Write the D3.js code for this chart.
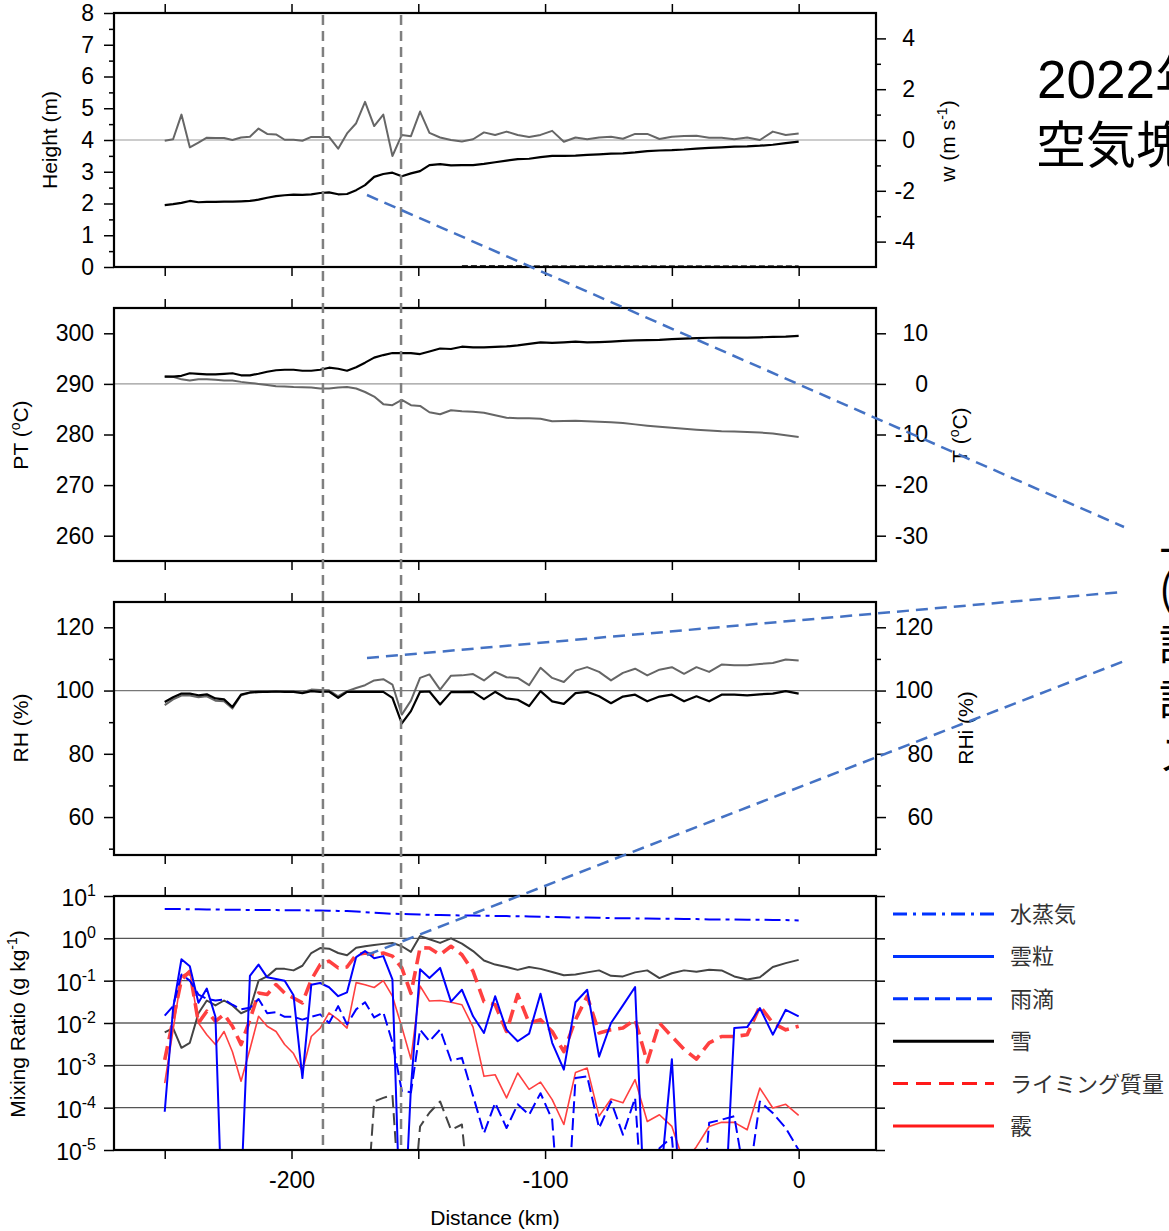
<!DOCTYPE html>
<html lang="ja">
<head>
<meta charset="utf-8">
<title>parcel trajectory</title>
<script src="https://cdnjs.cloudflare.com/ajax/libs/d3/7.8.5/d3.min.js"></script>
<style>
body { margin: 0; background: #fff; }
svg text { font-family: "Liberation Sans", Arial, Helvetica, sans-serif; }
</style>
</head>
<body>
<div id="chart"></div>
<script>
// distance along the trajectory (km)
var dist = [-250,-246.7,-243.4,-240.1,-236.7,-233.4,-230,-226.6,-223.3,-219.9,
  -216.4,-213,-209.6,-206.1,-202.7,-199.2,-195.7,-192.2,-188.7,-185.2,
  -181.6,-178.1,-174.5,-171,-167.4,-163.8,-160.2,-156.5,-152.9,-149.3,
  -145.6,-141.4,-137.1,-132.8,-128.4,-124.1,-119.7,-115.2,-110.8,-106.3,
  -101.8,-97.2,-92.6,-88,-83.4,-78.7,-74,-69.3,-64.5,-59.7,
  -54.9,-50,-45.2,-40.3,-35.3,-30.4,-25.4,-20.3,-15.3,-10.2,-5.1,0];

// panel 1
var heightKm = [1.95,1.98,2.02,2.08,2.04,2.05,2.05,2.06,2.06,2.07,2.08,2.12,2.18,2.23,2.26,2.28,2.27,2.29,2.33,2.35,2.29,2.3,2.42,2.58,2.84,2.93,2.97,2.86,2.95,3.02,3.21,
  3.24,3.2,3.21,3.21,3.25,3.3,3.35,3.4,3.41,3.46,3.5,3.5,3.51,3.53,3.55,3.57,3.58,3.61,3.65,3.67,3.68,3.7,3.73,3.75,3.77,3.79,3.8,3.82,3.85,3.9,3.95];
var wVel = [-0.03,0.03,1.0,-0.29,-0.1,0.09,0.08,0.08,0.0,0.1,0.13,0.45,0.24,0.22,0.01,0.01,-0.03,0.12,0.12,0.12,-0.34,0.26,0.66,1.5,0.55,1.0,-0.63,0.2,0.15,1.12,0.28,
  0.1,0.0,-0.06,0.03,0.3,0.2,0.33,0.2,0.12,0.2,0.36,-0.07,0.1,0.03,0.1,0.13,0.05,0.24,0.24,0.04,0.13,0.16,0.17,0.09,0.09,0.03,0.1,0.0,0.33,0.2,0.26];
var sfcHeight = [null,null,null,null,null,null,null,null,null,null,null,null,null,null,null,null,null,null,null,null,null,null,null,null,null,null,null,null,null,null,null,null,null,
  0.04,0.04,0.04,0.04,0.04,0.04,0.03,0.03,0.03,0.03,0.03,0.03,0.03,0.03,0.03,0.03,0.03,0.03,0.03,0.03,0.03,0.03,0.03,0.03,0.03,0.03,0.03,0.03,0.03];

// panel 2
var potTemp = [291.45,291.45,291.6,292.1,292.0,291.9,291.9,292.0,292.1,291.7,291.7,292.0,292.4,292.7,292.8,292.8,292.6,292.6,292.8,293.2,293.0,292.6,293.3,294.2,295.2,295.7,296.1,296.1,296.1,295.9,296.4,
  297.0,296.9,297.35,297.2,297.2,297.3,297.4,297.6,297.9,298.2,298.1,298.2,298.35,298.2,298.25,298.35,298.5,298.6,298.65,298.7,298.85,298.95,299.05,299.12,299.15,299.15,299.15,299.2,299.3,299.35,299.5];
var tempC = [1.45,1.4,0.9,0.65,0.9,0.9,0.8,0.65,0.65,0.4,0.2,0,-0.2,-0.45,-0.5,-0.6,-0.65,-0.7,-0.9,-0.9,-0.7,-0.6,-0.9,-1.6,-2.5,-4.0,-4.2,-3.15,-4.2,-4.35,-5.6,
  -6.0,-5.2,-5.4,-5.5,-5.7,-6.2,-6.7,-6.8,-6.8,-6.9,-7.4,-7.35,-7.3,-7.4,-7.5,-7.6,-7.75,-8.0,-8.25,-8.45,-8.65,-8.85,-9.05,-9.2,-9.35,-9.4,-9.5,-9.6,-9.8,-10.15,-10.5];

// panel 3
var rh = [96.4,97.9,99.05,99.05,98.5,98.8,97.5,97.2,94.8,98.7,99.4,99.6,99.6,99.7,99.6,99.6,99.2,99.8,99.6,99.7,97.7,99.6,99.6,99.6,99.6,99.6,97.7,89.6,93.5,99.6,99.7,
  95.6,99.5,99.5,99.6,97.3,99.6,97.5,97.1,95.1,99.8,96.6,95.8,99.2,99.6,98.2,96.0,98.1,98.7,96.6,98.1,98.7,96.6,98.2,96.6,98.7,98.7,98.5,98.8,99.05,99.8,99.05];
var rhi = [95.4,97.2,98.4,98.4,97.9,98.2,96.8,96.6,94.3,98.5,99.3,99.5,99.6,99.7,99.7,99.6,99.5,100.3,100.2,100.1,98.2,99.8,100.8,101.7,103.2,103.6,101.9,92.4,96.8,104,105.1,
  100.3,104.7,104.8,105.2,103.2,105.9,104.2,104,101.7,107.2,104,102.7,106.3,107.4,105.9,103.2,105.6,106.9,104.8,106.6,107.4,105.3,107.4,105.9,108.2,108,108,108.4,108.7,109.8,109.5];

// panel 4 (g/kg)
var qVapor = [4.9,4.9,4.9,4.85,4.85,4.8,4.8,4.75,4.75,4.7,4.7,4.7,4.65,4.65,4.6,4.6,4.6,4.55,4.55,4.5,4.45,4.4,
  4.3,4.15,4.0,3.9,3.8,3.75,3.7,3.65,3.6,
  3.55,3.5,3.47,3.44,3.41,3.38,3.35,3.32,3.3,3.25,
  3.2,3.15,3.1,3.1,3.05,3.0,3.0,2.95,2.95,2.9,2.9,2.85,2.85,2.8,2.8,2.8,2.75,2.75,2.7,2.7,2.65];
var qCloud = [8e-5,0.022,0.32,0.22,0.03,0.065,0.014,1e-8,1e-8,1e-6,0.13,0.24,0.12,0.11,0.1,0.045,5e-4,0.08,0.088,0.07,0.043,0.053,0.36,0.5,0.34,0.38,0.107,1e-8,3e-4,0.185,
  0.116,0.2,0.032,0.061,0.0144,0.0058,0.043,0.0069,0.0037,0.0056,0.049,0.0034,7.9e-4,0.031,0.061,0.0016,0.01,0.026,0.071,1e-8,1e-6,0.0014,1e-8,1e-8,1e-8,1e-8,0.0076,0.008,0.0226,0.0053,0.0205,0.0144];
var qRain = [0.015,0.025,0.14,0.1,0.047,0.037,0.034,0.036,0.027,0.021,0.023,0.037,0.017,0.018,0.014,0.014,0.012,0.014,0.016,0.01,
  0.025,0.0093,0.021,0.031,0.0135,0.018,0.0035,2.5e-4,2.3e-4,0.007,0.0037,0.007,
  0.0013,0.0015,1.9e-4,2.5e-5,1.3e-4,3.3e-5,1.2e-4,6.8e-5,2.2e-4,5.2e-5,1e-8,5e-4,5.5e-4,3.3e-5,1.4e-4,2.3e-5,1.7e-4,1e-8,1.1e-5,2e-5,1e-8,1e-8,4.4e-5,5.2e-5,6.3e-5,1e-6,1.4e-4,7.5e-5,3.3e-5,1e-5];
var qSnow = [0.006,0.0076,0.0026,0.0034,0.017,0.034,0.026,0.034,0.026,0.017,0.021,0.1,0.126,0.19,0.19,0.175,0.225,0.45,0.59,0.57,
  0.45,0.4,0.6,0.65,0.7,0.74,0.78,0.65,0.48,1.13,0.95,0.78,1.0,0.75,0.5,0.3,0.24,
  0.21,0.18,0.21,0.19,0.16,0.134,0.14,0.157,0.175,0.13,0.126,0.157,0.175,0.115,0.15,0.175,0.163,0.18,0.175,0.126,0.106,0.12,0.21,0.26,0.31];
var qRime = [0.00135,0.012,0.105,0.166,0.01,0.019,0.011,0.016,0.0084,0.0031,0.012,0.051,0.047,0.081,0.051,0.039,0.03,0.105,0.24,0.29,0.2,0.21,0.41,0.45,0.41,0.45,0.38,0.2,0.05,0.6,0.59,
  0.41,0.65,0.41,0.166,0.032,0.027,0.0063,0.047,0.01,0.012,0.0063,0.0021,0.012,0.043,0.0058,0.0069,0.0076,0.012,0.0012,0.01,0.0048,0.0024,0.0014,0.0034,0.0048,0.0048,0.0053,0.025,0.01,0.0069,0.0084];
var qGraupel = [3.8e-4,0.0069,0.127,0.166,0.01,0.0053,0.0031,0.0063,0.0021,4.2e-4,0.0024,0.0144,0.0084,0.0063,0.0031,0.0019,7.2e-4,0.0048,0.0076,0.0173,0.012,0.0076,
  0.09,0.08,0.069,0.1,0.043,0.008,0.0014,0.075,0.033,
  0.034,0.031,0.027,0.008,5.5e-4,6e-4,1.7e-4,6.6e-4,2.7e-4,4e-4,1.55e-4,4e-5,6.8e-4,8.6e-4,6.3e-5,1.6e-4,1.3e-4,4.6e-4,4.7e-5,6.8e-5,3.6e-5,5e-6,1.2e-5,3.6e-5,4.5e-5,4.5e-5,3e-5,2.9e-4,9.8e-5,1.2e-4,6.6e-5];
var qIce = [null,null,null,null,null,null,null,null,null,null,null,null,null,null,null,null,null,null,null,null,null,null,
  1e-7,1e-7,1.4e-4,1.7e-4,2e-4,1e-7,1e-7,3.6e-5,7.6e-5,1.4e-4,3e-5,4e-5,1e-7,
  null,null,null,null,null,null,null,null,null,null,null,null,null,null,null,null,null,null,null,null,null,null,null,null,null,null,null];

var legendNames = ["水蒸気", "雲粒", "雨滴", "雪", "ライミング質量", "霰"];
var markDist = [-187.6, -156.8];
var xTicks = [-250, -200, -150, -100, -50, 0];
var xLabels = [-200, -100, 0];

var svg = d3.select("#chart").append("svg").attr("width", 1169).attr("height", 1231);

var x = d3.scaleLinear().domain([-270, 30.5]).range([114, 876]);
var X0 = 114, X1 = 876;

var yH = d3.scaleLinear().domain([0, 8]).range([267, 13]);
var yW = d3.scaleLinear().domain([-5, 5]).range([267, 13]);
var yPT = d3.scaleLinear().domain([255, 305]).range([561, 308]);
var yT = d3.scaleLinear().domain([-35, 15]).range([561, 308]);
var yRH = d3.scaleLinear().domain([48, 128]).range([855, 602]);
var yQ = d3.scaleLog().domain([1e-5, 10]).range([1150, 896]);

var defs = svg.append("defs");
function clip(id, top, bottom) {
  defs.append("clipPath").attr("id", id).append("rect")
    .attr("x", X0).attr("y", top).attr("width", X1 - X0).attr("height", bottom - top);
}
clip("c1", 13, 267); clip("c2", 308, 561); clip("c3", 602, 855); clip("c4", 896, 1150);

function styleAxis(g) {
  g.select(".domain").remove();
  g.selectAll(".tick line").attr("stroke", "#000").attr("stroke-width", 1.5);
  g.selectAll("text").attr("fill", "#000").style("font-size", "23px")
    .style("font-family", "'Liberation Sans', Arial, sans-serif");
}

function xFrame(top, bottom) {
  svg.append("g").attr("transform", "translate(0," + top + ")")
    .call(d3.axisTop(x).tickValues(xTicks).tickSize(9).tickFormat("")).call(styleAxis);
  svg.append("g").attr("transform", "translate(0," + bottom + ")")
    .call(d3.axisBottom(x).tickValues(xTicks).tickSize(9).tickFormat("")).call(styleAxis);
}

function border(top, bottom) {
  svg.append("rect").attr("x", X0).attr("y", top).attr("width", X1 - X0).attr("height", bottom - top)
    .attr("fill", "none").attr("stroke", "#000").attr("stroke-width", 2.2);
}

function leftAxis(scale, major, minor) {
  svg.append("g").attr("transform", "translate(" + X0 + ",0)")
    .call(d3.axisLeft(scale).tickValues(major).tickSize(10).tickPadding(10).tickFormat(function (d) { return String(d); }))
    .call(styleAxis);
  if (minor) {
    svg.append("g").attr("transform", "translate(" + X0 + ",0)")
      .call(d3.axisLeft(scale).tickValues(minor).tickSize(5).tickFormat("")).call(styleAxis);
  }
}

function rightAxis(scale, major, minor, labelEnd) {
  var g = svg.append("g").attr("transform", "translate(" + X1 + ",0)")
    .call(d3.axisRight(scale).tickValues(major).tickSize(10).tickFormat(function (d) { return String(d); }))
    .call(styleAxis);
  g.selectAll("text").attr("text-anchor", "end").attr("x", labelEnd - X1);
  if (minor) {
    svg.append("g").attr("transform", "translate(" + X1 + ",0)")
      .call(d3.axisRight(scale).tickValues(minor).tickSize(5).tickFormat("")).call(styleAxis);
  }
}

function refLine(yv, color) {
  svg.append("line").attr("x1", X0).attr("x2", X1).attr("y1", yv).attr("y2", yv)
    .attr("stroke", color || "#9a9a9a").attr("stroke-width", 1.2);
}

function drawSeries(clipId, yScale, vals, color, width, dash) {
  var pts = dist.map(function (d, i) { return [d, vals[i]]; });
  var line = d3.line()
    .defined(function (p) { return p[1] !== null && p[1] !== undefined; })
    .x(function (p) { return x(p[0]); })
    .y(function (p) { return yScale(p[1]); });
  svg.append("path").attr("clip-path", "url(#" + clipId + ")")
    .attr("d", line(pts)).attr("fill", "none").attr("stroke", color)
    .attr("stroke-width", width).attr("stroke-linejoin", "round")
    .attr("stroke-dasharray", dash || null);
}

function vTitle(cx, cy, parts, size) {
  var t = svg.append("text").attr("transform", "translate(" + cx + "," + cy + ") rotate(-90)")
    .attr("text-anchor", "middle").style("font-size", (size || 21) + "px").attr("fill", "#000");
  parts.forEach(function (p) {
    var s = t.append("tspan").text(p[0]);
    if (p[1] === "sup") s.attr("dy", -8).style("font-size", "14px");
    if (p[1] === "down") s.attr("dy", 8);
  });
}

// ---------- panel 1 ----------
refLine(yW(0));
drawSeries("c1", yW, wVel, "#666", 2);
drawSeries("c1", yH, heightKm, "#000", 2.2);
drawSeries("c1", yH, sfcHeight, "#333", 1.6, "6,3");
xFrame(13, 267); border(13, 267);
leftAxis(yH, [0, 1, 2, 3, 4, 5, 6, 7, 8], [0.5, 1.5, 2.5, 3.5, 4.5, 5.5, 6.5, 7.5]);
rightAxis(yW, [-4, -2, 0, 2, 4], [-3, -1, 1, 3], 915);
vTitle(57, 140, [["Height (m)"]]);
vTitle(955, 141, [["w (m s"], ["-1", "sup"], [")", "down"]]);

// ---------- panel 2 ----------
refLine(yPT(290));
drawSeries("c2", yT, tempC, "#666", 2);
drawSeries("c2", yPT, potTemp, "#000", 2.2);
xFrame(308, 561); border(308, 561);
leftAxis(yPT, [260, 270, 280, 290, 300]);
rightAxis(yT, [-30, -20, -10, 0, 10], null, 928);
vTitle(28, 435, [["PT ("], ["o", "sup"], ["C)", "down"]]);
vTitle(967, 435, [["T ("], ["o", "sup"], ["C)", "down"]]);

// ---------- panel 3 ----------
refLine(yRH(100), "#777");
drawSeries("c3", yRH, rhi, "#666", 2);
drawSeries("c3", yRH, rh, "#000", 2.2);
xFrame(602, 855); border(602, 855);
leftAxis(yRH, [60, 80, 100, 120], [50, 70, 90, 110]);
rightAxis(yRH, [60, 80, 100, 120], [50, 70, 90, 110], 933);
vTitle(28, 728, [["RH (%)"]]);
vTitle(973, 728, [["RHi (%)"]]);

// ---------- panel 4 ----------
[1, 0.1, 0.01, 0.001, 1e-4].forEach(function (v) {
  refLine(yQ(v), v === 0.01 ? "#111" : "#555");
});
drawSeries("c4", yQ, qVapor, "#0000ff", 2, "16,5,4,5");
drawSeries("c4", yQ, qSnow, "#444", 2);
drawSeries("c4", yQ, qIce, "#444", 2, "12,6");
drawSeries("c4", yQ, qGraupel, "#ff4040", 1.6);
drawSeries("c4", yQ, qRime, "#ff4040", 3.6, "14,7");
drawSeries("c4", yQ, qRain, "#0000ff", 2, "12,5");
drawSeries("c4", yQ, qCloud, "#0000ff", 2);
xFrame(896, 1150); border(896, 1150);
var decades = [1e-5, 1e-4, 1e-3, 1e-2, 1e-1, 1, 10];
svg.append("g").attr("transform", "translate(" + X0 + ",0)")
  .call(d3.axisLeft(yQ).tickValues(decades).tickSize(10).tickFormat("")).call(styleAxis);
svg.append("g").attr("transform", "translate(" + X1 + ",0)")
  .call(d3.axisRight(yQ).tickValues(decades).tickSize(9).tickFormat("")).call(styleAxis);
decades.forEach(function (v) {
  var t = svg.append("text").attr("x", 96).attr("y", yQ(v) + 10).attr("text-anchor", "end")
    .style("font-size", "23px").attr("fill", "#000");
  t.append("tspan").text("10");
  t.append("tspan").attr("dy", -10).style("font-size", "16px").text(String(Math.round(Math.log10(v))));
});
svg.append("g").attr("transform", "translate(0,1150)")
  .call(d3.axisBottom(x).tickValues(xLabels).tickSize(0).tickPadding(22).tickFormat(function (d) { return String(d); }))
  .call(styleAxis);
vTitle(25, 1024, [["Mixing Ratio (g kg"], ["-1", "sup"], [")", "down"]]);
svg.append("text").attr("x", 495).attr("y", 1225).attr("text-anchor", "middle")
  .style("font-size", "21px").attr("fill", "#000").text("Distance (km)");

// legend
var legendColors = ["#0033ff", "#0033ff", "#0033ff", "#000", "#ff1a1a", "#ff1a1a"];
var legendDash = ["14,6,3,6", null, "15,6", null, "15,8", null];
legendNames.forEach(function (name, i) {
  var ly = 914 + i * 42.4;
  svg.append("line").attr("x1", 893).attr("x2", 994).attr("y1", ly).attr("y2", ly)
    .attr("stroke", legendColors[i]).attr("stroke-width", 3).attr("stroke-dasharray", legendDash[i]);
  svg.append("text").attr("x", 1010).attr("y", ly + 8).style("font-size", "22px")
    .style("font-family", "'Noto Sans CJK JP', sans-serif").attr("fill", "#333").text(name);
});

// marker lines across panels
markDist.forEach(function (d) {
  svg.append("line").attr("x1", x(d)).attr("x2", x(d)).attr("y1", 15).attr("y2", 1146)
    .attr("stroke", "#7f7f7f").attr("stroke-width", 2.5).attr("stroke-dasharray", "10,6");
});

// callout text on the right (cut at the page edge, as in the slide)
svg.append("text").attr("x", 1037).attr("y", 98).style("font-size", "53px")
  .style("font-family", "'Liberation Sans', 'Noto Sans CJK JP', sans-serif").attr("fill", "#000").text("2022年");
svg.append("text").attr("x", 1036).attr("y", 163).style("font-size", "50px")
  .style("font-family", "'Noto Sans CJK JP', sans-serif").attr("fill", "#000").text("空気塊");
["上", "(", "計", "記", "ス"].forEach(function (c, i) {
  svg.append("text").attr("x", 1159).attr("y", 550 + i * 55).style("font-size", "42px")
    .style("font-family", "'Noto Sans CJK JP', sans-serif").attr("fill", "#000").text(c);
});

// callout leader lines
[[367, 195, 1124, 527], [367, 658, 1122, 592], [367, 955, 1127, 660]].forEach(function (l) {
  svg.append("line").attr("x1", l[0]).attr("y1", l[1]).attr("x2", l[2]).attr("y2", l[3])
    .attr("stroke", "#4472c4").attr("stroke-width", 2.5).attr("stroke-dasharray", "12,7");
});
</script>
</body>
</html>
